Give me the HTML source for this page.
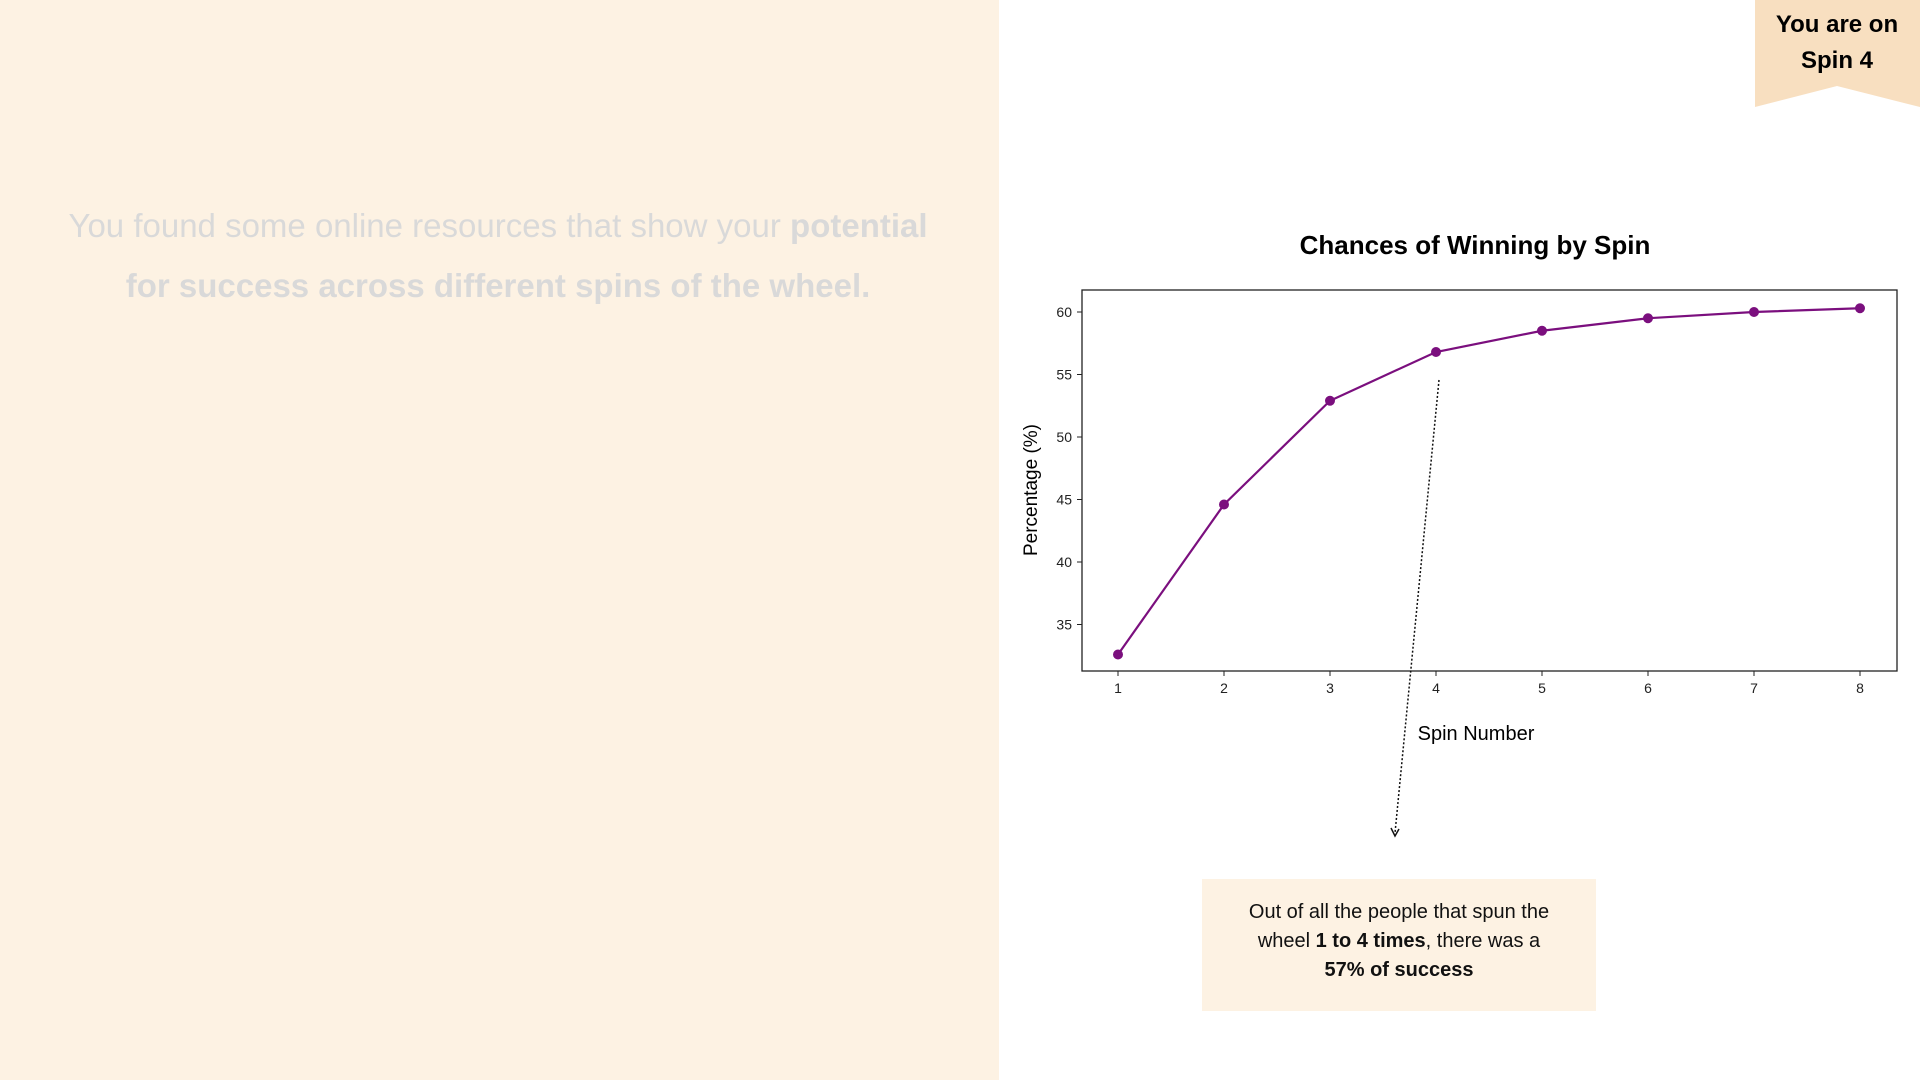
<!DOCTYPE html>
<html><head><meta charset="utf-8"><style>
body{margin:0;width:1920px;height:1080px;position:relative;background:#fff;font-family:"Liberation Sans",sans-serif;overflow:hidden}
.left{position:absolute;left:0;top:0;width:999px;height:1080px;background:#fdf2e3}
.intro{position:absolute;left:58px;width:880px;top:196px;text-align:center;font-size:33px;line-height:60px;color:#d9d9d9}
.badge{position:absolute;left:1755px;top:0;width:165px;height:107px}
.info{position:absolute;left:1202px;top:879px;width:394px;height:132px;background:#fdf2e3;font-size:20px;line-height:29px;text-align:center;padding-top:19px;box-sizing:border-box;color:#111}
</style></head><body>
<div class="left">
<div class="intro">You found some online resources that show your <b>potential for success across different spins of the wheel.</b></div>
</div>
<svg class="badge" viewBox="0 0 165 107"><polygon points="0,0 165,0 165,107 82,86 0,107" fill="#f8dfc0"/>
<text x="82" y="32" text-anchor="middle" font-size="24" font-weight="bold" font-family="Liberation Sans">You are on</text>
<text x="82" y="68" text-anchor="middle" font-size="24" font-weight="bold" font-family="Liberation Sans">Spin 4</text></svg>
<svg id="chart" style="position:absolute;left:0;top:0" width="1920" height="1080"></svg>
<div class="info">Out of all the people that spun the<br>wheel <b>1 to 4 times</b>, there was a<br><b>57% of success</b></div>
<script>
const spins=[1,2,3,4,5,6,7,8];
const values=[32.6,44.6,52.9,56.8,58.5,59.5,60.0,60.3];
const yTicks=[35,40,45,50,55,60];
const ns="http://www.w3.org/2000/svg";
const svg=document.getElementById('chart');
const X=v=>1118+(v-1)*(1860-1118)/7;
const Y=v=>312+(60-v)*(624.5-312)/25;
function mk(t,a,txt){const e=document.createElementNS(ns,t);for(const k in a)e.setAttribute(k,a[k]);if(txt!==undefined)e.textContent=txt;svg.appendChild(e);return e;}
let e;
e=mk('rect',{x:1082,y:290,width:815,height:381,fill:'none',stroke:'#222','stroke-width':1.3});


e=mk('text',{x:1475,y:254,'text-anchor':'middle','font-size':26,'font-weight':'bold','font-family':'Liberation Sans'},'Chances of Winning by Spin');


e=mk('text',{x:1037,y:490,'text-anchor':'middle','font-size':19,'font-family':'Liberation Sans',transform:'rotate(-90 1037 490)'},'Percentage (%)');


e=mk('text',{x:1476,y:740,'text-anchor':'middle','font-size':20,'font-family':'Liberation Sans'},'Spin Number');


yTicks.forEach(t=>{
 mk('line',{x1:1077,x2:1082,y1:Y(t),y2:Y(t),stroke:'#222'});
 e=mk('text',{x:1072,y:Y(t)+5,'text-anchor':'end','font-size':14,'font-family':'Liberation Sans',fill:'#222'},t);
 
 
});
spins.forEach(s=>{
 mk('line',{x1:X(s),x2:X(s),y1:671,y2:676,stroke:'#222'});
 e=mk('text',{x:X(s),y:693,'text-anchor':'middle','font-size':14,'font-family':'Liberation Sans',fill:'#222'},s);
 
 
});
e=mk('polyline',{points:spins.map((s,i)=>X(s)+','+Y(values[i])).join(' '),fill:'none',stroke:'#7b0f7e','stroke-width':2.2});


spins.forEach((s,i)=>{
 e=mk('circle',{cx:X(s),cy:Y(values[i]),r:5,fill:'#7b0f7e'});
 
 
});
e=mk('line',{x1:1439,y1:380,x2:1395,y2:833,stroke:'#111','stroke-width':1.5,'stroke-dasharray':'2,2'});


mk('polyline',{points:'1391,828 1395,836 1399,829',fill:'none',stroke:'#111','stroke-width':1.5});
</script>
</body></html>
